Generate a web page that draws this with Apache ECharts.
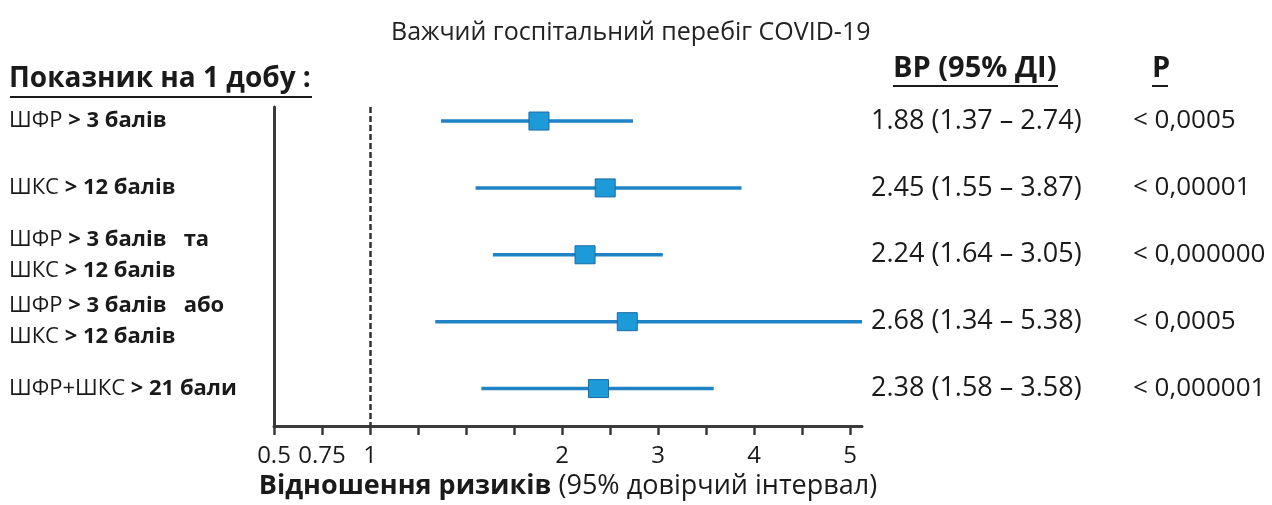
<!DOCTYPE html>
<html>
<head>
<meta charset="utf-8">
<script src="https://cdn.jsdelivr.net/npm/echarts@6/dist/echarts.min.js"></script>
<style>
  html, body { margin: 0; padding: 0; background: #fff; }
  #chart { width: 1272px; height: 505px; }
</style>
</head>
<body>
<div id="chart"></div>
<script>
// дані (з рисунка)
const rowLabels = [
  [["ШФР ", "> 3 балів"]],
  [["ШКС ", "> 12 балів"]],
  [["ШФР ", "> 3 балів   та"], ["ШКС ", "> 12 балів"]],
  [["ШФР ", "> 3 балів   або"], ["ШКС ", "> 12 балів"]],
  [["ШФР+ШКС ", "> 21 бали"]]
];
const hr = [1.88, 2.45, 2.24, 2.68, 2.38];
const ciLow = [1.37, 1.55, 1.64, 1.34, 1.58];
const ciHigh = [2.74, 3.87, 3.05, 5.38, 3.58];
const pValues = ["< 0,0005", "< 0,00001", "< 0,000000", "< 0,0005", "< 0,000001"];

// шкала осі X: рівномірні поділки з нерівним кроком
const xTickValues = [0.5, 0.75, 1, 1.25, 1.5, 1.75, 2, 2.5, 3, 3.5, 4, 4.5, 5];
const xTickLabels = ["0.5", "0.75", "1", "", "", "", "2", "", "3", "", "4", "", "5"];

// значення -> позиція поділки
function pos(v) {
  const t = xTickValues;
  for (let i = 0; i < t.length - 1; i++) {
    if (v <= t[i + 1]) return i + (v - t[i]) / (t[i + 1] - t[i]);
  }
  const n = t.length - 1;
  return n + (v - t[n]) / (t[n] - t[n - 1]);
}

const chart = echarts.init(document.getElementById("chart"));
const font = "'Open Sans', sans-serif";
const rowIdx = rowLabels.map((_, i) => i);

const option = {
  backgroundColor: "#fff",
  animation: false,
  textStyle: { fontFamily: font, color: "#222" },
  title: {
    text: "Важчий госпітальний перебіг COVID-19",
    left: 386,
    top: 15,
    textStyle: { fontFamily: font, fontSize: 25, fontWeight: "normal", color: "#222" }
  },
  graphic: [
    { type: "text", left: 9, top: 65, style: { text: "Показник на 1 добу :", font: "bold 28px 'Open Sans', sans-serif", fill: "#1a1a1a" } },
    { type: "line", shape: { x1: 10, y1: 97, x2: 312, y2: 97 }, style: { stroke: "#1a1a1a", lineWidth: 2 } },
    { type: "text", left: 893, top: 54, style: { text: "ВР (95% ДІ)", font: "bold 29px 'Open Sans', sans-serif", fill: "#1a1a1a" } },
    { type: "line", shape: { x1: 893, y1: 86, x2: 1058, y2: 86 }, style: { stroke: "#1a1a1a", lineWidth: 2 } },
    { type: "text", left: 1152, top: 54, style: { text: "Р", font: "bold 29px 'Open Sans', sans-serif", fill: "#1a1a1a" } },
    { type: "line", shape: { x1: 1152, y1: 86, x2: 1168, y2: 86 }, style: { stroke: "#1a1a1a", lineWidth: 2 } }
  ],
  grid: { left: 274, right: 410, top: 107, bottom: 75 },
  xAxis: {
    type: "value",
    min: 0,
    max: 12.25,
    interval: 1,
    name: "{b|Відношення ризиків} (95% довірчий інтервал)",
    nameLocation: "middle",
    nameGap: 47,
    nameTextStyle: {
      fontFamily: font, fontSize: 27, color: "#1a1a1a",
      rich: { b: { fontFamily: font, fontSize: 27, fontWeight: "bold", color: "#1a1a1a" } }
    },
    axisLine: { onZero: false, lineStyle: { color: "#3a3a3a", width: 3 } },
    axisTick: { show: true, length: 9, customValues: xTickValues.map((_, i) => i), lineStyle: { color: "#3a3a3a", width: 2.5 } },
    axisLabel: {
      customValues: xTickValues.map((_, i) => i),
      formatter: (v) => xTickLabels[Math.round(v)] || "",
      fontFamily: font, fontSize: 24, color: "#1a1a1a", margin: 18
    },
    splitLine: { show: false }
  },
  yAxis: [
    {
      type: "value",
      inverse: true,
      min: -0.21,
      max: 4.56,
      axisLine: { show: true, onZero: false, lineStyle: { color: "#3a3a3a", width: 3 } },
      axisTick: { show: false },
      splitLine: { show: false },
      axisLabel: {
        customValues: rowIdx,
        align: "left",
        margin: 265,
        lineHeight: 31,
        formatter: (v) => rowLabels[Math.round(v)].map((l) => `{n|${l[0]}}{b|${l[1]}}`).join("\n"),
        rich: {
          n: { fontFamily: font, fontSize: 22, color: "#1a1a1a", lineHeight: 31 },
          b: { fontFamily: font, fontSize: 22, fontWeight: "bold", color: "#1a1a1a", lineHeight: 31 }
        }
      }
    },
    {
      type: "value",
      position: "right",
      inverse: true,
      min: -0.21,
      max: 4.56,
      axisLine: { show: false },
      axisTick: { show: false },
      splitLine: { show: false },
      axisLabel: {
        customValues: rowIdx,
        align: "left",
        margin: 9,
        formatter: (v) => {
          const i = Math.round(v);
          return `{v|${hr[i].toFixed(2)} (${ciLow[i].toFixed(2)} – ${ciHigh[i].toFixed(2)})}{p|${pValues[i]}}`;
        },
        rich: {
          v: { fontFamily: font, fontSize: 27, color: "#1a1a1a", width: 262 },
          p: { fontFamily: font, fontSize: 26, color: "#1a1a1a" }
        }
      }
    }
  ],
  series: [
    {
      type: "custom",
      clip: true,
      data: rowIdx.map((i) => [pos(ciLow[i]), pos(ciHigh[i]), pos(hr[i]), i]),
      encode: { x: [0, 1, 2], y: 3 },
      renderItem: (params, api) => {
        const y = api.value(3);
        const a = api.coord([api.value(0), y]);
        const b = api.coord([api.value(1), y]);
        const c = api.coord([api.value(2), y]);
        return {
          type: "group",
          children: [
            { type: "line", shape: { x1: a[0], y1: a[1], x2: b[0], y2: b[1] }, style: { stroke: "#1f83c6", lineWidth: 3.5 } },
            { type: "rect", shape: { x: c[0] - 10, y: c[1] - 9, width: 20, height: 18 }, style: { fill: "#1d9bd8", stroke: "#1a6aa5", lineWidth: 1 } }
          ]
        };
      },
      markLine: {
        silent: true,
        symbol: "none",
        label: { show: false },
        lineStyle: { color: "#333", type: [6, 3], width: 2.5 },
        data: [{ xAxis: pos(1) }]
      }
    }
  ]
};

chart.setOption(option);
</script>
</body>
</html>
